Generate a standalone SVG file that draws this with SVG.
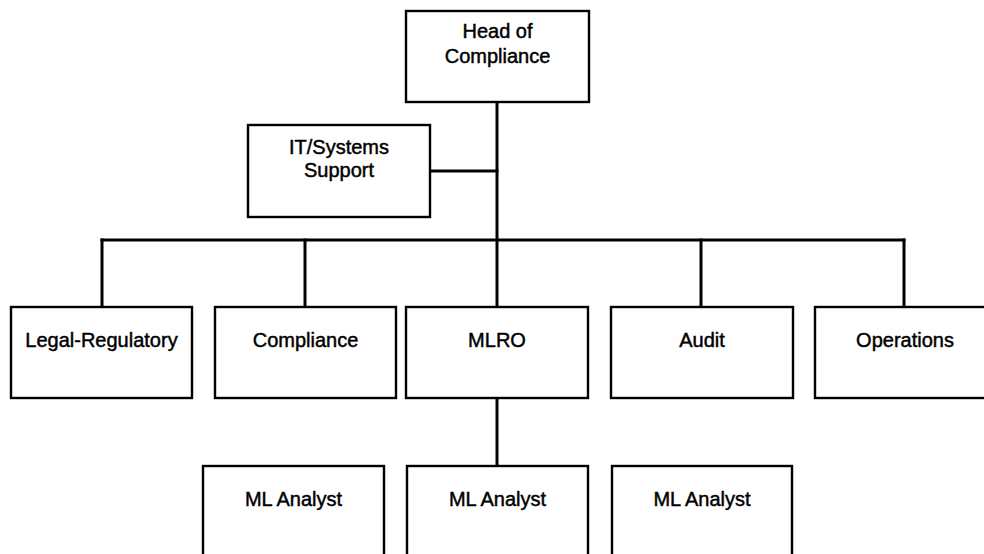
<svg xmlns="http://www.w3.org/2000/svg" width="984" height="554" viewBox="0 0 984 554">
  <style>
    .box { fill: #ffffff; stroke: #000000; stroke-width: 2.4; }
    .lbl { font-family: "Liberation Sans", Arial, sans-serif; font-size: 20px; fill: #000000; stroke: #000000; stroke-width: 0.45; text-anchor: middle; }
    .wire { fill: none; stroke: #000000; stroke-width: 3; stroke-linecap: square; }
  </style>
  <rect x="0" y="0" width="984" height="554" fill="#ffffff"/>

  <!-- reporting lines -->
  <g id="connectors">
    <path class="wire" d="M497,102 V307"/>
    <path class="wire" d="M430,171 H497"/>
    <path class="wire" d="M102,240 H904"/>
    <path class="wire" d="M102,240 V307"/>
    <path class="wire" d="M305,240 V307"/>
    <path class="wire" d="M701,240 V307"/>
    <path class="wire" d="M904,240 V307"/>
    <path class="wire" d="M497,398 V466"/>
  </g>

  <g id="head-of-compliance">
    <rect class="box" x="406" y="11" width="183" height="91"/>
    <text class="lbl" x="497.5" y="38">Head of</text>
    <text class="lbl" x="497.5" y="63">Compliance</text>
  </g>

  <g id="it-systems-support">
    <rect class="box" x="248" y="125" width="182" height="92"/>
    <text class="lbl" x="339" y="154">IT/Systems</text>
    <text class="lbl" x="339" y="177">Support</text>
  </g>

  <g id="legal-regulatory">
    <rect class="box" x="11" y="307" width="181" height="91"/>
    <text class="lbl" x="101.5" y="347">Legal-Regulatory</text>
  </g>

  <g id="compliance">
    <rect class="box" x="215" y="307" width="181" height="91"/>
    <text class="lbl" x="305.5" y="347">Compliance</text>
  </g>

  <g id="mlro">
    <rect class="box" x="406" y="307" width="182" height="91"/>
    <text class="lbl" x="497" y="347">MLRO</text>
  </g>

  <g id="audit">
    <rect class="box" x="611" y="307" width="182" height="91"/>
    <text class="lbl" x="702" y="347">Audit</text>
  </g>

  <g id="operations">
    <rect class="box" x="815" y="307" width="182" height="91"/>
    <text class="lbl" x="905" y="347">Operations</text>
  </g>

  <g id="ml-analyst-1">
    <rect class="box" x="203" y="466" width="181" height="100"/>
    <text class="lbl" x="293.5" y="506">ML Analyst</text>
  </g>

  <g id="ml-analyst-2">
    <rect class="box" x="407" y="466" width="181" height="100"/>
    <text class="lbl" x="497.5" y="506">ML Analyst</text>
  </g>

  <g id="ml-analyst-3">
    <rect class="box" x="612" y="466" width="180" height="100"/>
    <text class="lbl" x="702" y="506">ML Analyst</text>
  </g>
</svg>
